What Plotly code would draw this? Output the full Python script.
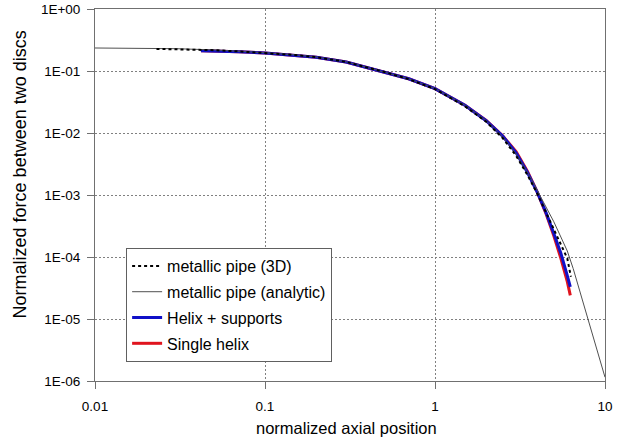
import plotly.graph_objects as go

# ---- data ----
analytic_x = [0.01, 0.02, 0.03, 0.05, 0.07, 0.1, 0.15, 0.2, 0.3, 0.5, 0.7, 1.0, 1.5, 2.0,
              2.5, 3.0, 3.5, 4.0, 4.5, 5.0, 5.5, 6.0, 6.5, 7.0, 7.5, 8.0, 9.0, 10.0]
analytic_y = [0.235, 0.233, 0.229, 0.219, 0.209, 0.197, 0.182, 0.168, 0.141, 0.098, 0.075,
              0.052, 0.028, 0.0158, 0.0087, 0.0046, 0.0023, 0.00118, 0.00065, 0.00037,
              0.00021, 0.000125, 6.5e-5, 3.3e-5, 1.75e-5, 9.5e-6, 3.2e-6, 1.15e-6]

pipe3d_x = [0.023, 0.03, 0.05, 0.07, 0.1, 0.15, 0.2, 0.3, 0.5, 0.7, 1.0, 1.5, 2.0, 2.5,
            3.0, 3.5, 4.0, 4.5, 5.0, 5.5, 6.0, 6.3]
pipe3d_y = [0.227, 0.225, 0.217, 0.207, 0.196, 0.181, 0.167, 0.140, 0.097, 0.074, 0.051,
            0.027, 0.0152, 0.0083, 0.0043, 0.0021, 0.00105, 0.00053, 0.00029, 0.000165,
            9.5e-5, 4.8e-5]

helix_sup_x = [0.042, 0.05, 0.07, 0.1, 0.15, 0.2, 0.3, 0.5, 0.7, 1.0, 1.5, 2.0, 2.5, 3.0,
               3.5, 4.0, 4.5, 5.0, 5.5, 6.0, 6.25]
helix_sup_y = [0.213, 0.211, 0.205, 0.195, 0.181, 0.167, 0.140, 0.097, 0.075, 0.052, 0.028,
               0.0158, 0.0089, 0.0048, 0.0023, 0.00110, 0.00052, 0.00024, 0.000115, 5.0e-5,
               3.3e-5]

single_x = [0.042, 0.05, 0.07, 0.1, 0.15, 0.2, 0.3, 0.5, 0.7, 1.0, 1.5, 2.0, 2.5, 3.0,
            3.5, 4.0, 4.5, 5.0, 5.5, 6.0, 6.25]
single_y = [0.213, 0.211, 0.205, 0.195, 0.181, 0.167, 0.140, 0.097, 0.075, 0.052, 0.028,
            0.0159, 0.0090, 0.0050, 0.0024, 0.00110, 0.00050, 0.00022, 9.5e-5, 4.0e-5,
            2.4e-5]

x_ticks = [0.01, 0.1, 1, 10]
x_tick_labels = ["0.01", "0.1", "1", "10"]
y_ticks = [1e-6, 1e-5, 1e-4, 1e-3, 1e-2, 1e-1, 1]
y_tick_labels = ["1E-06", "1E-05", "1E-04", "1E-03", "1E-02", "1E-01", "1E+00"]

FONT = "Liberation Sans, Arial, sans-serif"
AXC = "#707070"

fig = go.Figure()
fig.add_trace(go.Scatter(x=single_x, y=single_y, mode="lines", name="Single helix",
                         line=dict(color="#e0141e", width=3), legendrank=4,
                         legendgroup="d"))
fig.add_trace(go.Scatter(x=helix_sup_x, y=helix_sup_y, mode="lines", name="Helix + supports",
                         line=dict(color="#1010c8", width=3), legendrank=3,
                         legendgroup="c"))
fig.add_trace(go.Scatter(x=analytic_x, y=analytic_y, mode="lines",
                         name="metallic pipe (analytic)",
                         line=dict(color="#505050", width=1), legendrank=2,
                         legendgroup="b"))
fig.add_trace(go.Scatter(x=pipe3d_x, y=pipe3d_y, mode="lines", name="metallic pipe (3D)",
                         line=dict(color="#000000", width=2, dash="dot"), legendrank=1,
                         legendgroup="a"))

fig.update_layout(
    width=632, height=444,
    margin=dict(l=95, r=27, t=9, b=63),
    paper_bgcolor="white", plot_bgcolor="white",
    font=dict(family=FONT, color="#000000"),
    showlegend=True,
    legend=dict(x=0.061, y=0.3575, xanchor="left", yanchor="top",
                bgcolor="white", bordercolor="#606060", borderwidth=1,
                font=dict(size=16, family=FONT), traceorder="grouped",
                itemwidth=30, tracegroupgap=2),
    xaxis=dict(type="log", range=[-2, 1], tickvals=x_ticks, ticktext=x_tick_labels,
               showgrid=True, gridcolor="#808080", griddash="2px,2px", gridwidth=1,
               showline=True, linecolor=AXC, linewidth=1, mirror=True,
               ticks="outside", ticklen=7, tickcolor=AXC, automargin=False,
               tickfont=dict(size=13.5), ticklabelstandoff=6, zeroline=False),
    yaxis=dict(type="log", range=[-6, 0], tickvals=y_ticks, ticktext=y_tick_labels,
               showgrid=True, gridcolor="#808080", griddash="2px,2px", gridwidth=1,
               showline=True, linecolor=AXC, linewidth=1, mirror=True,
               ticks="outside", ticklen=7, tickcolor=AXC, automargin=False,
               tickfont=dict(size=13.5), ticklabelstandoff=4, zeroline=False),
    annotations=[
        dict(text="normalized axial position", xref="paper", yref="paper",
             x=0.494, y=-0.126, xanchor="center", yanchor="middle", showarrow=False,
             font=dict(size=16.5, family=FONT)),
        dict(text="Normalized force between two discs", xref="paper", yref="paper",
             x=-0.148, y=0.554, xanchor="center", yanchor="middle", showarrow=False,
             textangle=-90, font=dict(size=18, family=FONT)),
    ],
)

fig.write_html("out.html",
               config={"displayModeBar": False},
               post_script="document.body.style.margin='0';"
                           "document.body.style.overflow='hidden';")
